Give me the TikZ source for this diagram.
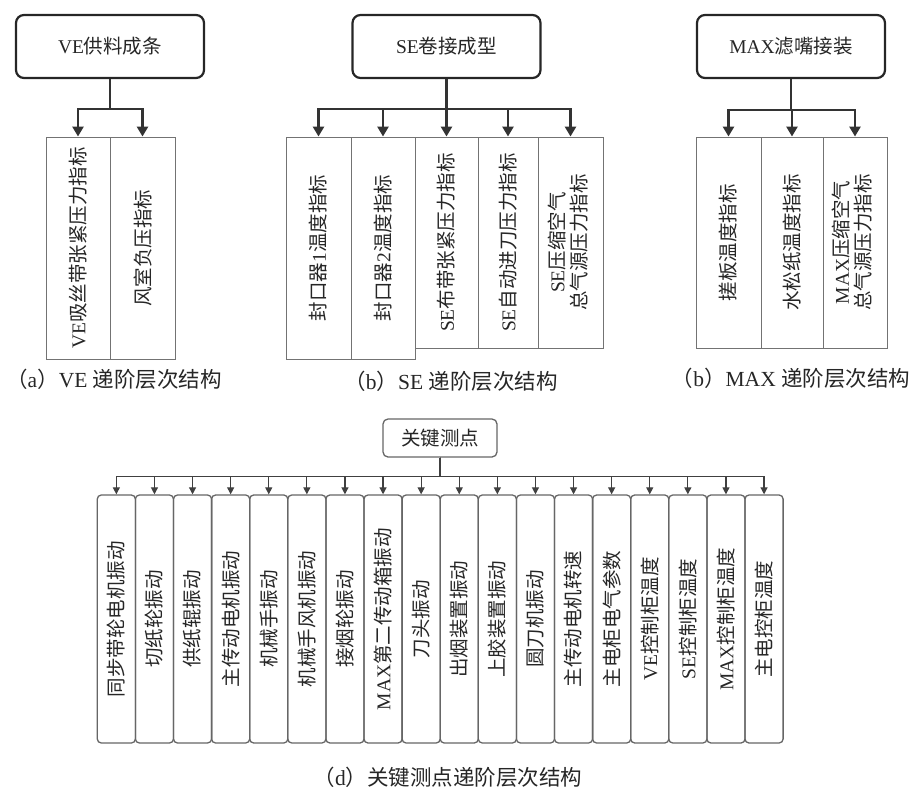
\documentclass[tikz,border=0pt]{standalone}
\usepackage{fontspec}
\usepackage{graphicx}
\setmainfont{Liberation Serif}
\newfontfamily\cjk{Noto Sans CJK SC}
\usetikzlibrary{arrows.meta}
\newcommand{\vtxt}[1]{\rotatebox{90}{#1}}
\newcommand{\vtwo}[2]{\rotatebox{90}{\begin{tabular}{@{}c@{}}#1\\[-2pt]#2\end{tabular}}}
\tikzset{
  lbl/.style={font=\fontsize{19.5}{24}\selectfont, text=black!85},
  rootA/.style={lbl, draw=black!85, line width=2.2pt, rounded corners=8pt, minimum width=188pt, minimum height=63pt, inner sep=0pt},
  leafA/.style={lbl, draw=black!55, line width=0.9pt, inner sep=0pt, minimum width=64pt},
  arrA/.style={draw=black!80, line width=2.6pt, -{Triangle[width=11pt,length=10pt]}},
  rootD/.style={lbl, draw=black!60, line width=1.3pt, rounded corners=5pt, minimum width=114pt, minimum height=38pt, inner sep=0pt},
  leafD/.style={lbl, draw=black!60, line width=1.3pt, rounded corners=4pt, minimum width=38.1pt, minimum height=248pt, inner sep=0pt},
  arrD/.style={draw=black!75, line width=1.2pt, -{Triangle[width=7pt,length=7pt]}},
  captxt/.style={font=\fontsize{21.5}{26}\selectfont, text=black!85, inner sep=0pt}
}
\begin{document}
\begin{tikzpicture}[x=1pt,y=-1pt]
\useasboundingbox (0,0) rectangle (909,792);

% (a) VE
\node[rootA] (ve) at (110,46.5) {VE{\cjk 供料成条}};
\node[leafA, minimum height=222pt] (ve1) at (78,248) {\vtxt{VE{\cjk 吸丝带张紧压力指标}}};
\node[leafA, minimum height=222pt, minimum width=65pt] (ve2) at (142.5,248) {\vtxt{\cjk 风室负压指标}};
\foreach \c in {ve1,ve2} \draw[arrA] (ve.south) -- ++(0,30) -| (\c.north);
\node[captxt] (capa) at (114,379) {{\cjk （}a{\cjk ）}VE {\cjk 递阶层次结构}};

% (b) SE
\node[rootA] (se) at (446.5,46.5) {SE{\cjk 卷接成型}};
\node[leafA, minimum height=222pt, minimum width=65pt] (se1) at (318.5,248) {\vtxt{{\cjk 封口器}1{\cjk 温度指标}}};
\node[leafA, minimum height=222pt, minimum width=64pt] (se2) at (383,248) {\vtxt{{\cjk 封口器}2{\cjk 温度指标}}};
\node[leafA, minimum height=211pt, minimum width=63pt] (se3) at (446.5,242.5) {\vtxt{SE{\cjk 布带张紧压力指标}}};
\node[leafA, minimum height=211pt, minimum width=60pt] (se4) at (508,242.5) {\vtxt{SE{\cjk 自动进刀压力指标}}};
\node[leafA, minimum height=211pt, minimum width=65pt] (se5) at (570.5,242.5) {\vtwo{SE{\cjk 压缩空气}}{\cjk 总气源压力指标}};
\foreach \c in {se1,se2,se3,se4,se5} \draw[arrA] (se.south) -- ++(0,30) -| (\c.north);
\node[captxt] (capb) at (451,381) {{\cjk （}b{\cjk ）}SE {\cjk 递阶层次结构}};

% (c) MAX
\node[rootA] (mx) at (791,46.5) {MAX{\cjk 滤嘴接装}};
\node[leafA, minimum height=211pt, minimum width=65pt] (mx1) at (728.5,242.5) {\vtxt{\cjk 搓板温度指标}};
\node[leafA, minimum height=211pt, minimum width=62pt] (mx2) at (792,242.5) {\vtxt{\cjk 水松纸温度指标}};
\node[leafA, minimum height=211pt, minimum width=64pt] (mx3) at (855,242.5) {\vtwo{MAX{\cjk 压缩空气}}{\cjk 总气源压力指标}};
\foreach \c in {mx1,mx2,mx3} \draw[arrA] (mx.south) -- ++(0,31) -| (\c.north);
\node[captxt] (capc) at (791,378) {{\cjk （}b{\cjk ）}MAX {\cjk 递阶层次结构}};

% (d) key points
\node[rootD] (kd) at (440,438) {\cjk 关键测点};
\foreach \t [count=\i] in {
  {\cjk 同步带轮电机振动},
  {\cjk 切纸轮振动},
  {\cjk 供纸辊振动},
  {\cjk 主传动电机振动},
  {\cjk 机械手振动},
  {\cjk 机械手风机振动},
  {\cjk 接烟轮振动},
  MAX{\cjk 第二传动箱振动},
  {\cjk 刀头振动},
  {\cjk 出烟装置振动},
  {\cjk 上胶装置振动},
  {\cjk 圆刀机振动},
  {\cjk 主传动电机转速},
  {\cjk 主电柜电气参数},
  VE{\cjk 控制柜温度},
  SE{\cjk 控制柜温度},
  MAX{\cjk 控制柜温度},
  {\cjk 主电控柜温度}} {
  \pgfmathsetmacro\xx{97.3+38.1*(\i-0.5)}
  \node[leafD] (d\i) at (\xx,619) {\vtxt{\t}};
  \draw[arrD] (kd.south) -- ++(0,19) -| (d\i.north);
}
\node[captxt] (capd) at (448,777) {{\cjk （}d{\cjk ）关键测点递阶层次结构}};
\end{tikzpicture}
\end{document}
